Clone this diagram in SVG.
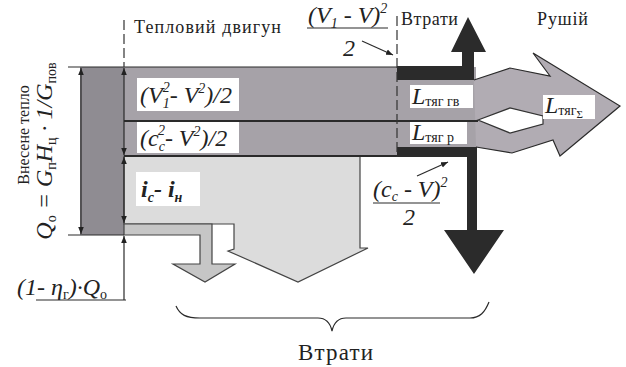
<svg xmlns="http://www.w3.org/2000/svg" width="626" height="367" viewBox="0 0 626 367">
<style>
text{font-family:"Liberation Serif","Times New Roman",serif;fill:#222}
.t{font-size:18px}
.m{font-size:24px;font-style:italic}
.s{font-size:14px}
.ln{stroke:#2a2a2a;stroke-width:1.2;fill:none}
.thick{stroke:#2a2a2a;stroke-width:2;fill:none}
.dash{stroke:#333;stroke-width:1.2;stroke-dasharray:10 4;fill:none}
.lab{fill:#fff}
.dark{fill:#2b2b2b}
</style>
<defs>
<marker id="ah" viewBox="0 0 10 10" refX="10" refY="5" markerWidth="7" markerHeight="7" orient="auto-start-reverse" markerUnits="userSpaceOnUse">
<path d="M0,1 L10,5 L0,9 Z" fill="#222"/>
</marker>
</defs>
<rect width="626" height="367" fill="#fff"/>

<g id="heat-input">
<rect x="80" y="67" width="44" height="168" fill="#8f8c92"/>
</g>

<g id="bands">
<rect x="124" y="67" width="352" height="89" fill="#a6a2a8"/>
</g>

<g id="exhaust-heat">
<path d="M124,156 L360,156 L360,248 L368,248 L298,282 L228,251 L234,249 L234,224 L124,224 Z" fill="#dcdcdc" stroke="#444" stroke-width="1.2"/>
</g>

<g id="heat-loss">
<path d="M124,224 L212,224 L212,264 L235,264 L205,282 L173,264 L200,264 L200,235 L124,235 Z" fill="#c6c6c6" stroke="#444" stroke-width="1.2"/>
</g>

<g id="thrust">
<path d="M474,80 L510,68 L550,76 L533,53 L620,106 L560,156 L553,140 L512,153 L476,147 Z" fill="#b1acb3"/>
<polyline points="474,80 510,68 550,76 533,53 620,106 560,156 553,140 512,153 476,147" class="ln"/>
<polygon points="478,120 510,108 543,116 543,124 510,133" fill="#fff" stroke="#333" stroke-width="1.2"/>
</g>

<g id="loss-up">
<path d="M397,66 L462,66 L462,52 L451,52 L468,17 L486,52 L474,52 L474,80 L397,80 Z" class="dark"/>
</g>

<g id="loss-down">
<path d="M397,147 L477,147 L477,230 L504,230 L474,274 L444,230 L467,230 L467,157 L397,157 Z" class="dark"/>
</g>

<g id="connectors">
<line x1="68" y1="67" x2="397" y2="67" class="ln"/>
<line x1="68" y1="235" x2="124" y2="235" class="ln"/>
<line x1="124" y1="121" x2="478" y2="121" class="thick"/>
<line x1="124" y1="156" x2="397" y2="156" class="thick"/>
<line x1="124" y1="20" x2="124" y2="67" class="dash"/>
<line x1="397" y1="16" x2="397" y2="157" class="dash"/>
<line x1="81" y1="68" x2="81" y2="234" class="ln" marker-start="url(#ah)" marker-end="url(#ah)"/>
<line x1="124" y1="68" x2="124" y2="155" class="ln" marker-start="url(#ah)" marker-end="url(#ah)"/>
<line x1="124" y1="157" x2="124" y2="223" class="ln" marker-start="url(#ah)" marker-end="url(#ah)"/>
<line x1="124" y1="300" x2="124" y2="236" class="ln" marker-end="url(#ah)"/>
<line x1="36" y1="300" x2="126" y2="300" class="ln"/>
<line x1="362" y1="41" x2="393" y2="55" class="ln" marker-end="url(#ah)"/>
<line x1="417" y1="176" x2="448" y2="162" class="ln" marker-end="url(#ah)"/>
<line x1="307" y1="28" x2="388" y2="28" class="ln"/>
<line x1="373" y1="203" x2="440" y2="203" class="ln"/>
<path d="M176,306 C180,315 186,318 200,318 L318,318 C326,318 330,322 332,331 C334,322 338,318 346,318 L470,318 C480,318 485,312 489,302" class="ln" stroke-width="1.5"/>
</g>

<g id="labels">
<rect x="137" y="78" width="102" height="33" class="lab"/>
<text x="140" y="103" class="m">(V<tspan class="s" dy="5">1</tspan><tspan class="s" dx="-7" dy="-16">2</tspan><tspan dy="11">- V</tspan><tspan class="s" dy="-10">2</tspan><tspan dy="10">)/2</tspan></text>
<rect x="137" y="122" width="102" height="31" class="lab"/>
<text x="140" y="146" class="m">(c<tspan class="s" dy="5">с</tspan><tspan class="s" dx="-7" dy="-16">2</tspan><tspan dy="11">- V</tspan><tspan class="s" dy="-10">2</tspan><tspan dy="10">)/2</tspan></text>
<rect x="136" y="172" width="64" height="34" class="lab"/>
<text x="141" y="197" class="m" font-size="26" font-weight="bold">i<tspan class="s" font-size="15" dy="5">с</tspan><tspan dy="-5">- i</tspan><tspan class="s" font-size="15" dy="5">н</tspan></text>
<rect x="410" y="85" width="63" height="23" class="lab"/>
<text x="412" y="104" class="m" font-size="22">L<tspan class="s" font-style="normal" dy="2">тяг гв</tspan></text>
<rect x="410" y="122" width="57" height="22" class="lab"/>
<text x="412" y="140" class="m" font-size="22">L<tspan class="s" font-style="normal" dy="2">тяг р</tspan></text>
<rect x="543" y="95" width="52" height="24" class="lab"/>
<text x="545" y="113" class="m" font-size="22">L<tspan class="s" font-style="normal" dy="2">тяг</tspan><tspan font-size="11" font-style="normal" dy="3">Σ</tspan></text>

<text x="134" y="33" class="t" textLength="147" lengthAdjust="spacing">Тепловий двигун</text>
<text x="401" y="25" class="t" textLength="57" lengthAdjust="spacing">Втрати</text>
<text x="537" y="25" class="t" textLength="51" lengthAdjust="spacing">Рушій</text>
<text x="298" y="360" font-size="23" textLength="75" lengthAdjust="spacing">Втрати</text>

<text x="308" y="23" class="m" font-size="21">(V<tspan class="s" dy="5">1</tspan><tspan dy="-5"> - V)</tspan><tspan class="s" dy="-10">2</tspan></text>
<text x="343" y="56" class="m" font-size="21">2</text>
<text x="373" y="197" class="m" font-size="21">(c<tspan class="s" dy="4">с</tspan><tspan dy="-4"> - V)</tspan><tspan class="s" dy="-10">2</tspan></text>
<text x="403" y="225" class="m" font-size="21">2</text>

<text x="17" y="295" class="m" font-size="23">(1- η<tspan class="s" font-style="normal" dy="4">г</tspan><tspan dy="-4">)·Q</tspan><tspan class="s" font-style="normal" dy="4">о</tspan></text>

<text transform="translate(29,135) rotate(-90)" text-anchor="middle" font-size="16">Внесене тепло</text>
<text transform="translate(52,151) rotate(-90)" text-anchor="middle" class="m" font-size="22">Q<tspan class="s" font-style="normal" dy="4">о</tspan><tspan dy="-4"> = G</tspan><tspan class="s" font-style="normal" dy="4">п</tspan><tspan dy="-4">H</tspan><tspan class="s" font-style="normal" dy="4">ц</tspan><tspan dy="-4"> · 1/G</tspan><tspan class="s" font-style="normal" dy="4">пов</tspan></text>
</g>
</svg>
